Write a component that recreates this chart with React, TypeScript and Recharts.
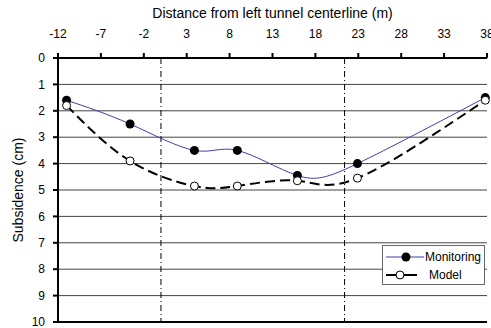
import { LineChart, Line, XAxis, YAxis, CartesianGrid, ReferenceLine, Legend } from "recharts";

const distance = [-11, -3.6, 3.9, 8.9, 15.9, 22.9, 37.8];
const monitoring = [1.6, 2.5, 3.5, 3.5, 4.45, 4.0, 1.5];
const model = [1.8, 3.9, 4.85, 4.85, 4.65, 4.55, 1.6];
const xTicks = [-12, -7, -2, 3, 8, 13, 18, 23, 28, 33, 38];
const yTicks = [0, 1, 2, 3, 4, 5, 6, 7, 8, 9, 10];
const tunnelCenters = [0, 21.4];

const data = distance.map((d, i) => ({ d, monitoring: monitoring[i], model: model[i] }));

const font = "'Liberation Sans', Arial, sans-serif";

function LegendBox() {
  return (
    <div
      style={{
        width: 101,
        height: 38,
        border: "1px solid #666",
        background: "#fff",
        fontFamily: font,
        fontSize: 12,
        color: "#000",
      }}
    >
      <svg width={101} height={38} style={{ display: "block" }}>
        <line x1={3} x2={41} y1={11} y2={11} stroke="#4040a8" strokeWidth={1} />
        <circle cx={23} cy={11} r={4.5} fill="#000" />
        <text x={42} y={15} fontSize={12} fontFamily={font}>Monitoring</text>
        <line x1={3} x2={34} y1={29} y2={29} stroke="#000" strokeWidth={2} />
        <circle cx={17} cy={29} r={4} fill="#fff" stroke="#000" strokeWidth={1} />
        <text x={46} y={33} fontSize={12} fontFamily={font}>Model</text>
      </svg>
    </div>
  );
}

export default function App() {
  return (
    <div style={{ position: "absolute", left: 0, top: 0, width: 491, height: 328, background: "#fff" }}>
      <LineChart
        width={491}
        height={328}
        data={data}
        margin={{ top: 0, right: 4, bottom: 6, left: 18 }}
        style={{ fontFamily: font }}
      >
        <CartesianGrid vertical={false} stroke="#444" />
        <XAxis
          dataKey="d"
          type="number"
          orientation="top"
          domain={[-12, 38]}
          ticks={xTicks}
          height={58}
          tickSize={5}
          tickMargin={15}
          stroke="#000"
          strokeWidth={2}
          tick={{ fill: "#000", fontSize: 12 }}
          interval={0}
          label={{
            value: "Distance from left tunnel centerline (m)",
            position: "insideTop",
            offset: 8,
            fill: "#000",
            fontSize: 14,
          }}
        />
        <YAxis
          type="number"
          reversed
          domain={[0, 10]}
          ticks={yTicks}
          width={40}
          tickSize={5}
          tickMargin={8}
          stroke="#000"
          strokeWidth={2}
          tick={{ fill: "#000", fontSize: 12 }}
          interval={0}
          label={{
            value: "Subsidence (cm)",
            angle: -90,
            position: "insideLeft",
            offset: 0,
            fill: "#000",
            fontSize: 14,
            style: { textAnchor: "middle" },
          }}
        />
        <ReferenceLine y={10} stroke="#000" strokeWidth={2} />
        {tunnelCenters.map((x) => (
          <ReferenceLine key={x} x={x} stroke="#000" strokeWidth={1} strokeDasharray="6 3 1 3" />
        ))}
        <Line
          type="natural"
          dataKey="monitoring"
          stroke="#4040a8"
          strokeWidth={1}
          dot={{ r: 4.5, fill: "#000", stroke: "#000", strokeWidth: 0 }}
          isAnimationActive={false}
        />
        <Line
          type="natural"
          dataKey="model"
          stroke="#000"
          strokeWidth={2}
          strokeDasharray="10 5"
          dot={{ r: 4, fill: "#fff", stroke: "#000", strokeWidth: 1, strokeDasharray: "" }}
          isAnimationActive={false}
        />
        <Legend
          layout="horizontal"
          verticalAlign="middle"
          align="center"
          content={() => <LegendBox />}
          wrapperStyle={{ left: 382, top: 245, width: 103, height: 40 }}
        />
      </LineChart>
    </div>
  );
}
